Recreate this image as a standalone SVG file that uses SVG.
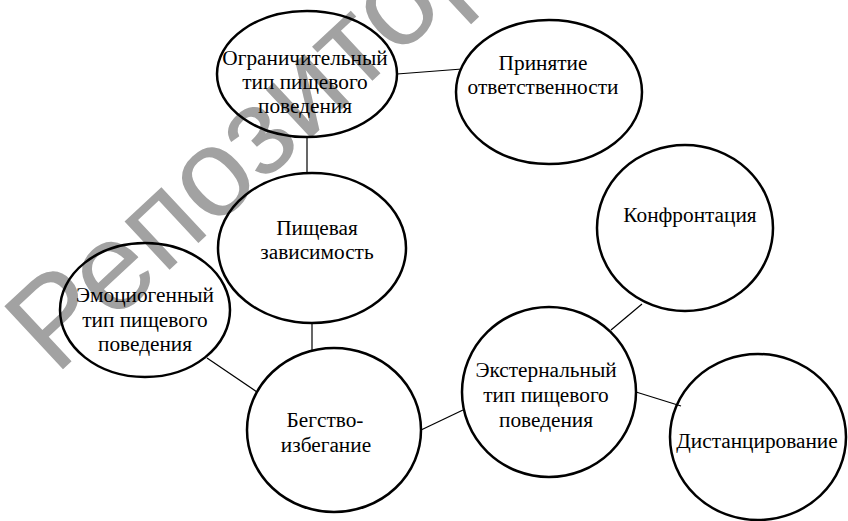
<svg xmlns="http://www.w3.org/2000/svg" width="848" height="521" viewBox="0 0 848 521">
<style>
.n{fill:none;stroke:#000;stroke-width:2.5}
.c{stroke:#000;stroke-width:1.2;fill:none}
.t{font-family:"Liberation Serif","Times New Roman",serif;font-size:21.3px;fill:#000;text-anchor:middle}
.wm{font-family:"Liberation Sans",Arial,sans-serif;font-size:125px;fill:#a2a2a2}
</style>
<rect width="848" height="521" fill="#fff"/>
<text class="wm" transform="translate(55.5,376.3) rotate(-43)">Репозиторий</text>
<g id="connectors">
<line class="c" x1="397" y1="74" x2="462" y2="69"/>
<line class="c" x1="307" y1="137" x2="307" y2="173"/>
<line class="c" x1="312" y1="323" x2="312" y2="350"/>
<line class="c" x1="207" y1="358" x2="257" y2="392"/>
<line class="c" x1="421" y1="430" x2="463" y2="410"/>
<line class="c" x1="611" y1="330" x2="642" y2="304"/>
<line class="c" x1="636" y1="392" x2="681" y2="406"/>
</g>
<g id="n1"><ellipse class="n" cx="307" cy="74" rx="90" ry="63"/>
<text class="t" x="305" y="65">Ограничительный</text><text class="t" x="305" y="89">тип пищевого</text><text class="t" x="305" y="113">поведения</text></g>
<g id="n2"><ellipse class="n" cx="312" cy="248" rx="94" ry="75"/>
<text class="t" x="317" y="235">Пищевая</text><text class="t" x="317" y="259">зависимость</text></g>
<g id="n3"><ellipse class="n" cx="145" cy="310" rx="85" ry="67"/>
<text class="t" x="145" y="302">Эмоциогенный</text><text class="t" x="145" y="327">тип пищевого</text><text class="t" x="145" y="351">поведения</text></g>
<g id="n4"><ellipse class="n" cx="334" cy="430" rx="87" ry="82"/>
<text class="t" x="325" y="427">Бегство-</text><text class="t" x="326" y="452">избегание</text></g>
<g id="n5"><ellipse class="n" cx="549" cy="92" rx="93" ry="72"/>
<text class="t" x="543" y="70">Принятие</text><text class="t" x="543" y="94">ответственности</text></g>
<g id="n6"><ellipse class="n" cx="685" cy="228" rx="88" ry="83"/>
<text class="t" x="690" y="222">Конфронтация</text></g>
<g id="n7"><ellipse class="n" cx="549" cy="392" rx="87" ry="85"/>
<text class="t" x="546" y="377">Экстернальный</text><text class="t" x="546" y="402">тип пищевого</text><text class="t" x="546" y="427">поведения</text></g>
<g id="n8"><ellipse class="n" cx="758" cy="437" rx="88" ry="83"/>
<text class="t" x="757" y="448">Дистанцирование</text></g>
</svg>
